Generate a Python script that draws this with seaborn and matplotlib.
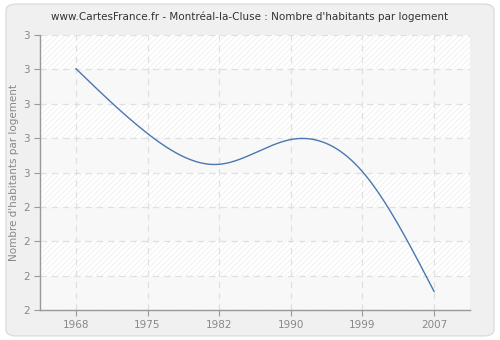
import numpy as np
import pandas as pd
import matplotlib
matplotlib.use("Agg")
import matplotlib.pyplot as plt
import seaborn as sns
from matplotlib.patches import FancyBboxPatch

years = ["1968", "1975", "1982", "1990", "1999", "2007"]
values = [2.878, 2.642, 2.530, 2.620, 2.503, 2.067]
ytick_values = [2.0, 2.125, 2.25, 2.375, 2.5, 2.625, 2.75, 2.875, 3.0]
ytick_labels = ["2", "2", "2", "2", "3", "3", "3", "3", "3"]
title = "www.CartesFrance.fr - Montréal-la-Cluse : Nombre d'habitants par logement"
ylabel = "Nombre d'habitants par logement"


def natural_spline(x, y, xs):
    x = np.asarray(x, float); y = np.asarray(y, float)
    n = len(x)
    h = np.diff(x)
    A = np.zeros((n, n)); b = np.zeros(n)
    A[0, 0] = 1; A[-1, -1] = 1
    for i in range(1, n - 1):
        A[i, i - 1] = h[i - 1]
        A[i, i] = 2 * (h[i - 1] + h[i])
        A[i, i + 1] = h[i]
        b[i] = 3 * ((y[i + 1] - y[i]) / h[i] - (y[i] - y[i - 1]) / h[i - 1])
    c = np.linalg.solve(A, b)
    out = np.empty_like(xs)
    for k, t in enumerate(xs):
        i = min(max(np.searchsorted(x, t) - 1, 0), n - 2)
        dx = t - x[i]
        bi = (y[i + 1] - y[i]) / h[i] - h[i] * (2 * c[i] + c[i + 1]) / 3
        di = (c[i + 1] - c[i]) / (3 * h[i])
        out[k] = y[i] + bi * dx + c[i] * dx ** 2 + di * dx ** 3
    return out


pos = np.arange(len(years))
xs = np.linspace(0, len(years) - 1, 400)
curve = pd.DataFrame({"x": xs, "y": natural_spline(pos, values, xs)})

sns.set_theme(style="white")
plt.rcParams["font.family"] = ["DejaVu Sans"]
plt.rcParams["hatch.linewidth"] = 0.5
plt.rcParams["hatch.color"] = "#e4e4e4"

fig = plt.figure(figsize=(5, 3.4), dpi=100)
fig.patch.set_facecolor("#ffffff")
bg = FancyBboxPatch((0.012, 0.012), 0.976, 0.976, boxstyle="round,pad=0,rounding_size=0.02",
                    transform=fig.transFigure, facecolor="#f0f0f0", edgecolor="#dddddd",
                    linewidth=1, zorder=-10)
fig.patches.append(bg)

ax = fig.add_axes([0.08, 0.088, 0.86, 0.809])
ax.set_facecolor("#ffffff")
ax.patch.set_hatch("//////")
ax.patch.set_edgecolor("#ececec")

for lo, hi in [(2.75, 2.875), (2.5, 2.625), (2.25, 2.375), (2.0, 2.125)]:
    ax.axhspan(lo, hi, facecolor="#f8f8f8", edgecolor="none", zorder=0.5)

sns.lineplot(data=curve, x="x", y="y", ax=ax, color="#4a77b0", linewidth=1.0, zorder=3)

ax.set_xlim(-0.5, len(years) - 0.5)
ax.set_ylim(2.0, 3.0)
ax.set_xticks(pos)
ax.set_xticklabels(years)
ax.set_yticks(ytick_values)
ax.set_yticklabels(ytick_labels)

ax.grid(True, color="#e0e0e0", linestyle=(0, (5, 4)), linewidth=0.9)
ax.set_axisbelow(True)
for s in ["top", "right"]:
    ax.spines[s].set_visible(False)
for s in ["left", "bottom"]:
    ax.spines[s].set_color("#999999")
    ax.spines[s].set_linewidth(1.0)
ax.tick_params(axis="both", which="major", length=4, width=0.8, color="#999999",
               labelcolor="#888888", labelsize=7.5, direction="out", pad=3,
               left=True, bottom=True)
ax.set_xlabel("")
ax.set_ylabel(ylabel, color="#888888", fontsize=7.5, labelpad=3)
fig.text(0.5, 0.95, title, ha="center", va="center", fontsize=7.5, color="#333333")

fig.savefig("out.png", dpi=100, facecolor=fig.get_facecolor())
